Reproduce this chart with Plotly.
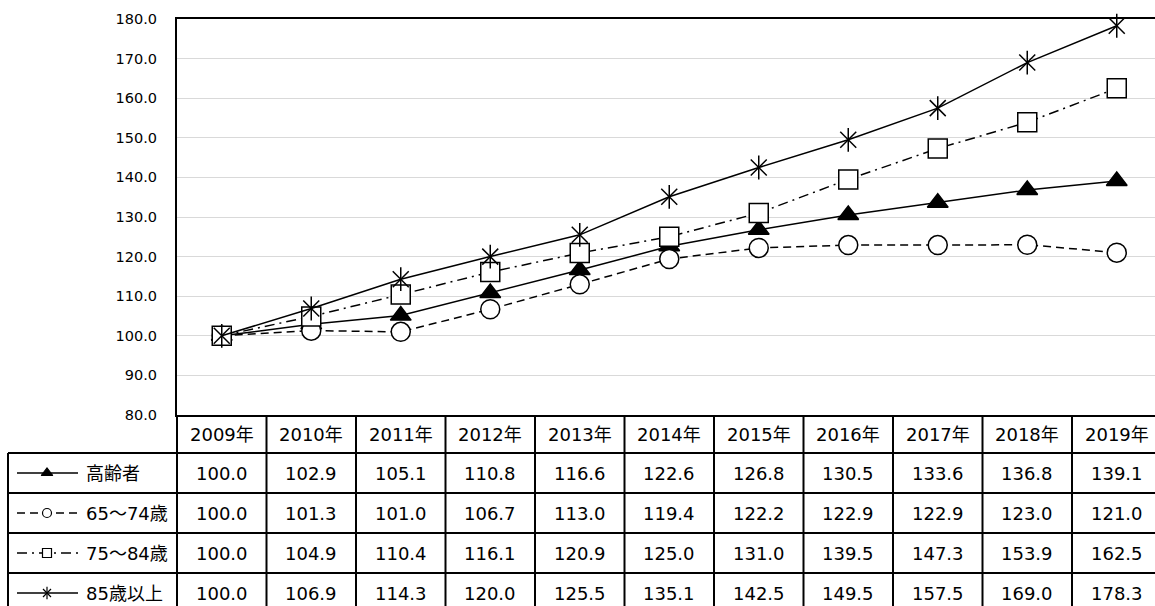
import plotly.graph_objects as go

# ---- data -------------------------------------------------------------
years = ["2009年", "2010年", "2011年", "2012年", "2013年", "2014年",
         "2015年", "2016年", "2017年", "2018年", "2019年"]
series_names = ["高齢者", "65～74歳", "75～84歳", "85歳以上"]
elderly = [100.0, 102.9, 105.1, 110.8, 116.6, 122.6, 126.8, 130.5, 133.6, 136.8, 139.1]
age_65_74 = [100.0, 101.3, 101.0, 106.7, 113.0, 119.4, 122.2, 122.9, 122.9, 123.0, 121.0]
age_75_84 = [100.0, 104.9, 110.4, 116.1, 120.9, 125.0, 131.0, 139.5, 147.3, 153.9, 162.5]
age_85_up = [100.0, 106.9, 114.3, 120.0, 125.5, 135.1, 142.5, 149.5, 157.5, 169.0, 178.3]
y_ticks = [80, 90, 100, 110, 120, 130, 140, 150, 160, 170, 180]

# ---- geometry (pixels) ------------------------------------------------
W, H = 1155, 606
PLOT_L, PLOT_T, PLOT_B = 177, 19, 415
COL_W = 89.5
LEG_L = 8
ROW_LINES = [453, 493, 533, 573]
ROW_BOTTOM = 613

FONT_NUM = "DejaVu Sans, Noto Sans CJK JP, sans-serif"
INK = "#000000"
TABLE_FONT = 18


def px_x(p):
    return p / W


def px_y(p):
    return (H - p) / H


x_idx = list(range(len(years)))
x_range = [-0.5, -0.5 + (W - PLOT_L) / COL_W]

fig = go.Figure()

line_w = 1.5
styles = [
    dict(dash="solid", symbol="triangle-up", size=18, fill=INK),
    dict(dash="8px,5px", symbol="circle", size=19, fill="white"),
    dict(dash="10px,5px,2px,5px", symbol="square", size=19, fill="white"),
    dict(dash="solid", symbol="x-thin-open", size=16, fill=INK),
]
all_values = [elderly, age_65_74, age_75_84, age_85_up]

for name, vals, st in zip(series_names, all_values, styles):
    fig.add_trace(go.Scatter(
        x=x_idx, y=vals, name=name, mode="lines+markers",
        line=dict(color=INK, width=line_w, dash=st["dash"]),
        marker=dict(symbol=st["symbol"], size=st["size"], color=st["fill"],
                    line=dict(color=INK, width=1.5)),
        cliponaxis=False, showlegend=False,
    ))
# vertical stroke completing the star marker of 85歳以上
fig.add_trace(go.Scatter(
    x=x_idx, y=age_85_up, mode="markers",
    marker=dict(symbol="line-ns-open", size=17, color=INK,
                line=dict(color=INK, width=1.5)),
    cliponaxis=False, showlegend=False, hoverinfo="skip",
))

# ---- legend keys inside the table's first column ----------------------
row_centers = [(a + b) / 2 for a, b in zip(ROW_LINES, ROW_LINES[1:] + [ROW_BOTTOM])]
key_x0, key_x1, key_mid = 17, 78, 47
key_styles = [
    dict(symbol="triangle-up", size=10, fill=INK),
    dict(symbol="circle", size=9, fill="white"),
    dict(symbol="square", size=9, fill="white"),
    dict(symbol="x-thin-open", size=8, fill=INK),
]
for st, ks, yc in zip(styles, key_styles, row_centers):
    fig.add_trace(go.Scatter(
        x=[key_x0, key_x1], y=[yc, yc], mode="lines", xaxis="x2", yaxis="y2",
        line=dict(color=INK, width=1.3, dash=st["dash"]),
        showlegend=False, hoverinfo="skip",
    ))
    fig.add_trace(go.Scatter(
        x=[key_mid], y=[yc], mode="markers", xaxis="x2", yaxis="y2",
        marker=dict(symbol=ks["symbol"], size=ks["size"], color=ks["fill"],
                    line=dict(color=INK, width=1.2)),
        showlegend=False, hoverinfo="skip",
    ))
fig.add_trace(go.Scatter(
    x=[key_mid], y=[row_centers[3]], mode="markers", xaxis="x2", yaxis="y2",
    marker=dict(symbol="line-ns-open", size=9, color=INK, line=dict(color=INK, width=1.2)),
    showlegend=False, hoverinfo="skip",
))

# ---- table grid -------------------------------------------------------
shapes = []
grid = dict(color=INK, width=2)
for yy in ROW_LINES:
    shapes.append(dict(type="line", xref="paper", yref="paper",
                       x0=px_x(LEG_L), x1=1, y0=px_y(yy), y1=px_y(yy), line=grid))
shapes.append(dict(type="line", xref="paper", yref="paper",
                   x0=px_x(LEG_L), x1=px_x(LEG_L), y0=px_y(ROW_LINES[0]), y1=0, line=grid))
for k in range(len(years) + 1):
    xp = PLOT_L + COL_W * k
    if xp > W:
        break
    shapes.append(dict(type="line", xref="paper", yref="paper",
                       x0=px_x(xp), x1=px_x(xp), y0=px_y(PLOT_B), y1=0, line=grid))

# ---- table text -------------------------------------------------------
annotations = []
hdr_y = px_y((PLOT_B + ROW_LINES[0]) / 2)
for i, yr in enumerate(years):
    annotations.append(dict(x=i, y=hdr_y, xref="x", yref="paper", text=yr,
                            showarrow=False, xanchor="center", yanchor="middle",
                            font=dict(size=TABLE_FONT, color=INK, family=FONT_NUM)))
for name, vals, yc in zip(series_names, all_values, row_centers):
    annotations.append(dict(x=px_x(84), y=px_y(yc), xref="paper", yref="paper",
                            text=name, showarrow=False, xanchor="left", yanchor="middle",
                            font=dict(size=TABLE_FONT, color=INK, family=FONT_NUM)))
    for i, v in enumerate(vals):
        annotations.append(dict(x=i, y=px_y(yc), xref="x", yref="paper",
                                text=f"{v:.1f}", showarrow=False,
                                xanchor="center", yanchor="middle",
                                font=dict(size=TABLE_FONT, color=INK, family=FONT_NUM)))

fig.update_layout(
    width=W, height=H, autosize=False,
    margin=dict(l=0, r=0, t=0, b=0, pad=0, autoexpand=False),
    paper_bgcolor="white", plot_bgcolor="white",
    font=dict(family=FONT_NUM, color=INK),
    showlegend=False,
    xaxis=dict(domain=[px_x(PLOT_L), 1], range=x_range, showticklabels=False,
               showgrid=False, zeroline=False, ticks="", automargin=False,
               showline=True, linecolor=INK, linewidth=2, mirror=True,
               fixedrange=True),
    yaxis=dict(domain=[px_y(PLOT_B), px_y(PLOT_T)], range=[80, 180],
               tickvals=y_ticks, ticktext=[f"{t:.1f}" for t in y_ticks],
               tickfont=dict(size=14.5, color=INK, family=FONT_NUM),
               ticks="", ticklabelstandoff=15, automargin=False,
               showgrid=True, gridcolor="#d9d9d9", gridwidth=1,
               zeroline=False, showline=True, linecolor=INK, linewidth=2,
               mirror=False, fixedrange=True),
    xaxis2=dict(domain=[px_x(LEG_L), px_x(PLOT_L)], range=[LEG_L, PLOT_L],
                visible=False, fixedrange=True, anchor="y2", automargin=False),
    yaxis2=dict(domain=[0, px_y(ROW_LINES[0])], range=[H, ROW_LINES[0]],
                visible=False, fixedrange=True, anchor="x2", automargin=False),
    shapes=shapes,
    annotations=annotations,
)

fig.write_html("out.html", config={"responsive": False, "displayModeBar": False})
